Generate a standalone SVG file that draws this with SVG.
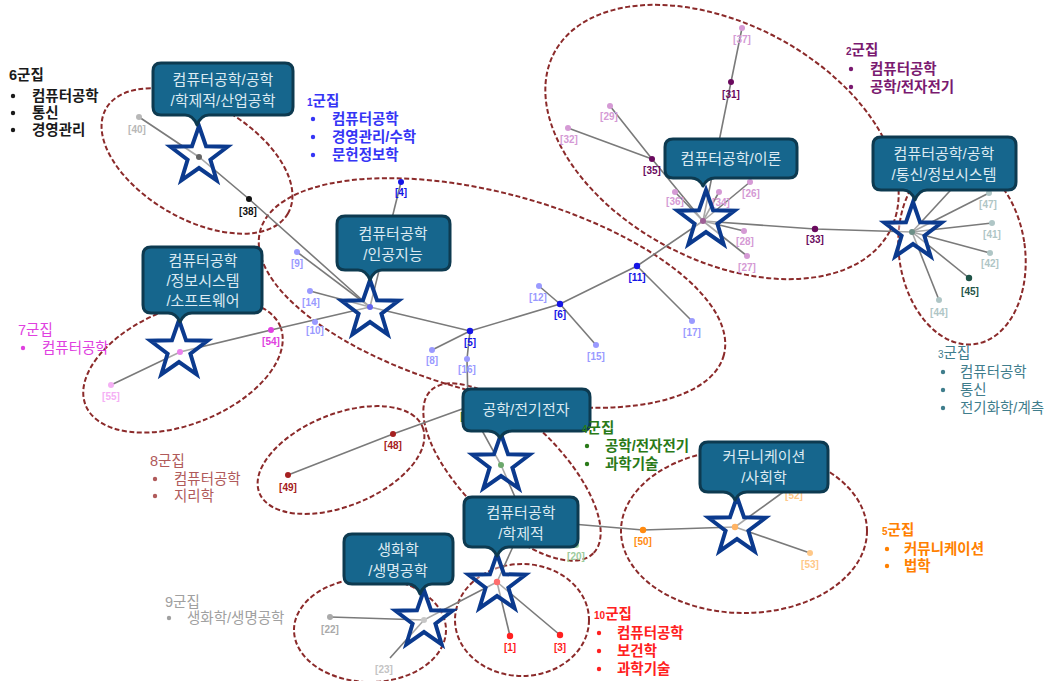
<svg xmlns="http://www.w3.org/2000/svg" xmlns:xlink="http://www.w3.org/1999/xlink" width="1055" height="681" viewBox="0 0 1055 681">
<defs>
<style>
.bg{fill:#ffffff}
.ell{fill:none;stroke:#8B2A2A;stroke-width:2;stroke-dasharray:5 2.5}
.edge{stroke:#7a7a7a;stroke-width:1.6;fill:none}
.star{fill:#ffffff;fill-opacity:0.35;stroke:#0B3A8E;stroke-width:4;stroke-linejoin:miter}
.call{fill:#16668D;stroke:#0D3A50;stroke-width:3;stroke-linejoin:round}
.ct{font-family:"Liberation Sans","Noto Sans CJK KR",sans-serif;font-size:15px;fill:#DCEAF2;text-anchor:middle}
.nl{font-family:"Liberation Sans",Arial,sans-serif;font-size:10px;font-weight:bold;text-anchor:middle}
.gl{font-family:"Liberation Sans","Noto Sans CJK KR",sans-serif;font-size:14.5px;font-weight:bold}
.gr{font-family:"Liberation Sans","Noto Sans CJK KR",sans-serif;font-size:14.5px}
.sm{font-size:10px}
</style>
<path id="starshape" d="M0,-30 L7.05,-9.71 L28.53,-9.27 L11.41,3.71 L17.63,24.27 L0,12 L-17.63,24.27 L-11.41,3.71 L-28.53,-9.27 L-7.05,-9.71 Z"/>
</defs>
<rect class="bg" x="0" y="0" width="1055" height="681"/>

<g id="ellipses">
<ellipse class="ell" cx="197" cy="161" rx="105" ry="58" transform="rotate(30 197 161)"/>
<ellipse class="ell" cx="492" cy="293" rx="240" ry="100" transform="rotate(15 492 293)"/>
<ellipse class="ell" cx="722" cy="142" rx="190" ry="118" transform="rotate(28 722 142)"/>
<ellipse class="ell" cx="962" cy="252" rx="63" ry="93" transform="rotate(-8 962 252)"/>
<ellipse class="ell" cx="183" cy="366" rx="105" ry="58" transform="rotate(-22 183 366)"/>
<ellipse class="ell" cx="341" cy="460" rx="88" ry="46" transform="rotate(-22 341 460)"/>
<ellipse class="ell" cx="512" cy="472" rx="115" ry="50" transform="rotate(45 512 472)"/>
<ellipse class="ell" cx="744" cy="531" rx="123" ry="82"/>
<ellipse class="ell" cx="370" cy="630" rx="76" ry="52"/>
<ellipse class="ell" cx="522" cy="620" rx="67" ry="56"/>
</g>

<g id="connectors">
<polyline class="edge" points="139,117 199,157 249,199 370,307"/>
<line class="edge" x1="297" y1="252" x2="370" y2="307"/>
<line class="edge" x1="310" y1="291" x2="370" y2="307"/>
<line class="edge" x1="401" y1="182" x2="370" y2="307"/>
<polyline class="edge" points="111,385 180,352 271,330 370,307"/>
<polyline class="edge" points="370,307 470,331 560,304 637,266 703,221"/>
<line class="edge" x1="470" y1="331" x2="432" y2="350"/>
<polyline class="edge" points="470,331 467,359 468,405 501,465 525,520 497,582"/>
<polyline class="edge" points="525,520 643,530 735,527"/>
<line class="edge" x1="560" y1="304" x2="539" y2="286"/>
<line class="edge" x1="560" y1="304" x2="596" y2="345"/>
<line class="edge" x1="637" y1="266" x2="692" y2="321"/>
<polyline class="edge" points="288,475 393,434 465,408"/>
<line class="edge" x1="735" y1="527" x2="786" y2="490"/>
<line class="edge" x1="735" y1="527" x2="810" y2="553"/>
<line class="edge" x1="497" y1="582" x2="510" y2="636"/>
<line class="edge" x1="497" y1="582" x2="560" y2="635"/>
<polyline class="edge" points="497,582 424,620 330,617"/>
<line class="edge" x1="424" y1="620" x2="390" y2="658"/>
<polyline class="edge" points="742,28 731,82 703,221"/>
<polyline class="edge" points="610,106 652,159 703,221"/>
<line class="edge" x1="568" y1="128" x2="652" y2="159"/>
<line class="edge" x1="675" y1="192" x2="703" y2="221"/>
<line class="edge" x1="719" y1="192" x2="703" y2="221"/>
<line class="edge" x1="750" y1="182" x2="703" y2="221"/>
<line class="edge" x1="744" y1="231" x2="703" y2="221"/>
<line class="edge" x1="747" y1="256" x2="703" y2="221"/>
<polyline class="edge" points="703,221 815,229 912,232"/>
<line class="edge" x1="912" y1="232" x2="989" y2="193"/>
<line class="edge" x1="912" y1="232" x2="992" y2="223"/>
<line class="edge" x1="912" y1="232" x2="990" y2="253"/>
<line class="edge" x1="912" y1="232" x2="969" y2="278"/>
<line class="edge" x1="912" y1="232" x2="939" y2="300"/>
<line class="edge" x1="912" y1="232" x2="960" y2="180"/>
</g>

<g id="nodes">
<circle cx="139" cy="117" r="3" fill="#B8B8B8"/>
<text class="nl" x="137" y="133" fill="#B8B8B8">[40]</text>
<circle cx="249" cy="199" r="3" fill="#111"/>
<text class="nl" x="248" y="215" fill="#111">[38]</text>
<circle cx="199" cy="157" r="3" fill="#111"/>

<circle cx="370" cy="307" r="3" fill="#1515E6"/>
<circle cx="401" cy="182" r="3" fill="#1515E6"/>
<text class="nl" x="401" y="196" fill="#1515E6">[4]</text>
<circle cx="297" cy="252" r="3" fill="#9A9AFF"/>
<text class="nl" x="297" y="267" fill="#9A9AFF">[9]</text>
<circle cx="310" cy="291" r="3" fill="#9A9AFF"/>
<text class="nl" x="311" y="306" fill="#9A9AFF">[14]</text>
<circle cx="315" cy="322" r="3" fill="#9A9AFF"/>
<text class="nl" x="315" y="334" fill="#9A9AFF">[10]</text>
<circle cx="470" cy="331" r="3.2" fill="#1515E6"/>
<text class="nl" x="470" y="346" fill="#1515E6">[5]</text>
<circle cx="432" cy="350" r="3" fill="#9A9AFF"/>
<text class="nl" x="432" y="364" fill="#9A9AFF">[8]</text>
<circle cx="467" cy="359" r="3" fill="#9A9AFF"/>
<text class="nl" x="467" y="373" fill="#9A9AFF">[16]</text>
<circle cx="560" cy="304" r="3.2" fill="#1515E6"/>
<text class="nl" x="560" y="318" fill="#1515E6">[6]</text>
<circle cx="539" cy="286" r="3" fill="#9A9AFF"/>
<text class="nl" x="538" y="301" fill="#9A9AFF">[12]</text>
<circle cx="596" cy="345" r="3" fill="#9A9AFF"/>
<text class="nl" x="596" y="360" fill="#9A9AFF">[15]</text>
<circle cx="637" cy="266" r="3.2" fill="#1515E6"/>
<text class="nl" x="637" y="281" fill="#1515E6">[11]</text>
<circle cx="692" cy="321" r="3" fill="#9A9AFF"/>
<text class="nl" x="692" y="336" fill="#9A9AFF">[17]</text>

<circle cx="703" cy="221" r="3" fill="#6A0A5E"/>
<circle cx="742" cy="28" r="3" fill="#D59AD5"/>
<text class="nl" x="742" y="43" fill="#D59AD5">[37]</text>
<circle cx="731" cy="82" r="3" fill="#6A0A5E"/>
<text class="nl" x="731" y="98" fill="#6A0A5E">[31]</text>
<circle cx="610" cy="106" r="3" fill="#D59AD5"/>
<text class="nl" x="609" y="120" fill="#D59AD5">[29]</text>
<circle cx="568" cy="128" r="3" fill="#D59AD5"/>
<text class="nl" x="569" y="143" fill="#D59AD5">[32]</text>
<circle cx="652" cy="159" r="3" fill="#6A0A5E"/>
<text class="nl" x="652" y="174" fill="#6A0A5E">[35]</text>
<circle cx="675" cy="192" r="3" fill="#D59AD5"/>
<text class="nl" x="675" y="205" fill="#D59AD5">[36]</text>
<circle cx="719" cy="192" r="3" fill="#D59AD5"/>
<text class="nl" x="721" y="206" fill="#D59AD5">[34]</text>
<circle cx="750" cy="182" r="3" fill="#D59AD5"/>
<text class="nl" x="751" y="197" fill="#D59AD5">[26]</text>
<circle cx="744" cy="231" r="3" fill="#D59AD5"/>
<text class="nl" x="745" y="245" fill="#D59AD5">[28]</text>
<circle cx="747" cy="256" r="3" fill="#D59AD5"/>
<text class="nl" x="747" y="271" fill="#D59AD5">[27]</text>
<circle cx="815" cy="229" r="3.2" fill="#6A0A5E"/>
<text class="nl" x="815" y="243" fill="#6A0A5E">[33]</text>

<circle cx="912" cy="232" r="3" fill="#1F5448"/>
<circle cx="989" cy="193" r="3" fill="#AFC6C6"/>
<text class="nl" x="988" y="208" fill="#AFC6C6">[47]</text>
<circle cx="992" cy="223" r="3" fill="#AFC6C6"/>
<text class="nl" x="992" y="238" fill="#AFC6C6">[41]</text>
<circle cx="990" cy="253" r="3" fill="#AFC6C6"/>
<text class="nl" x="990" y="267" fill="#AFC6C6">[42]</text>
<circle cx="969" cy="278" r="3.2" fill="#1F5448"/>
<text class="nl" x="970" y="295" fill="#1F5448">[45]</text>
<circle cx="939" cy="300" r="3" fill="#AFC6C6"/>
<text class="nl" x="939" y="316" fill="#AFC6C6">[44]</text>

<circle cx="271" cy="330" r="3" fill="#E040E0"/>
<text class="nl" x="271" y="345" fill="#E040E0">[54]</text>
<circle cx="180" cy="352" r="3" fill="#E040E0"/>
<circle cx="111" cy="385" r="3" fill="#F5B0F5"/>
<text class="nl" x="111" y="400" fill="#F5B0F5">[55]</text>

<circle cx="393" cy="434" r="3" fill="#A52020"/>
<text class="nl" x="393" y="449" fill="#A52020">[48]</text>
<circle cx="288" cy="475" r="3" fill="#A52020"/>
<text class="nl" x="288" y="491" fill="#A52020">[49]</text>

<circle cx="501" cy="465" r="3" fill="#1E7A1E"/>
<text class="nl" x="462" y="420" fill="#1E7A1E">[</text>
<circle cx="576" cy="545" r="3" fill="#9CCB9C"/>
<text class="nl" x="576" y="560" fill="#9CCB9C">[20]</text>

<circle cx="643" cy="530" r="3.2" fill="#FF8A10"/>
<text class="nl" x="643" y="545" fill="#FF8A10">[50]</text>
<circle cx="735" cy="527" r="3.2" fill="#FF8A10"/>
<circle cx="786" cy="490" r="3" fill="#FFC888"/>
<text class="nl" x="794" y="499" fill="#FFC888">[52]</text>
<circle cx="810" cy="553" r="3" fill="#FFC888"/>
<text class="nl" x="810" y="568" fill="#FFC888">[53]</text>

<circle cx="497" cy="582" r="3.2" fill="#FF2020"/>
<circle cx="510" cy="636" r="3.2" fill="#FF2020"/>
<text class="nl" x="510" y="651" fill="#FF2020">[1]</text>
<circle cx="560" cy="635" r="3.2" fill="#FF2020"/>
<text class="nl" x="560" y="651" fill="#FF2020">[3]</text>

<circle cx="424" cy="620" r="3" fill="#AAAAAA"/>
<circle cx="330" cy="617" r="3" fill="#AAAAAA"/>
<text class="nl" x="330" y="633" fill="#AAAAAA">[22]</text>
<text class="nl" x="384" y="673" fill="#C4C4C4">[23]</text>
</g>

<g id="stars">
<use xlink:href="#starshape" class="star" x="199" y="156"/>
<use xlink:href="#starshape" class="star" x="370" y="310"/>
<use xlink:href="#starshape" class="star" x="706" y="220"/>
<use xlink:href="#starshape" class="star" x="913" y="232"/>
<use xlink:href="#starshape" class="star" x="179" y="350"/>
<use xlink:href="#starshape" class="star" x="501" y="464"/>
<use xlink:href="#starshape" class="star" x="497" y="584"/>
<use xlink:href="#starshape" class="star" x="424" y="620"/>
<use xlink:href="#starshape" class="star" x="737" y="527"/>
</g>

<g id="callout-6">
<path class="call" d="M161,63 H285 Q293,63 293,71 V107 Q293,115 285,115 H209 Q201,115 197,125 Q193,115 185,115 H161 Q153,115 153,107 V71 Q153,63 161,63 Z"/>
<text class="ct" x="223" y="85">컴퓨터공학/공학</text>
<text class="ct" x="223" y="106">/학제적/산업공학</text>
</g>
<g id="callout-1">
<path class="call" d="M345,216 H442 Q450,216 450,224 V262 Q450,270 442,270 H382 Q374,270 370,280 Q366,270 358,270 H345 Q337,270 337,262 V224 Q337,216 345,216 Z"/>
<text class="ct" x="393" y="239">컴퓨터공학</text>
<text class="ct" x="393" y="260">/인공지능</text>
</g>
<g id="callout-2">
<path class="call" d="M673,139 H789 Q797,139 797,147 V170 Q797,178 789,178 H715 Q707,178 703,186 Q699,178 691,178 H673 Q665,178 665,170 V147 Q665,139 673,139 Z"/>
<text class="ct" x="731" y="164">컴퓨터공학/이론</text>
</g>
<g id="callout-3">
<path class="call" d="M881,137 H1008 Q1016,137 1016,145 V182 Q1016,190 1008,190 H927 Q919,190 915,200 Q911,190 903,190 H881 Q873,190 873,182 V145 Q873,137 881,137 Z"/>
<text class="ct" x="944" y="159">컴퓨터공학/공학</text>
<text class="ct" x="944" y="180">/통신/정보시스템</text>
</g>
<g id="callout-7">
<path class="call" d="M151,247 H254 Q262,247 262,255 V305 Q262,313 254,313 H192 Q184,313 180,322 Q176,313 168,313 H151 Q143,313 143,305 V255 Q143,247 151,247 Z"/>
<text class="ct" x="203" y="266">컴퓨터공학</text>
<text class="ct" x="203" y="286">/정보시스템</text>
<text class="ct" x="203" y="306">/소프트웨어</text>
</g>
<g id="callout-4">
<path class="call" d="M471,389 H582 Q590,389 590,397 V423 Q590,431 582,431 H512 Q504,431 500,438 Q496,431 488,431 H471 Q463,431 463,423 V397 Q463,389 471,389 Z"/>
<text class="ct" x="526" y="415">공학/전기전자</text>
</g>
<g id="callout-10">
<path class="call" d="M472,497 H570 Q578,497 578,505 V539 Q578,547 570,547 H509 Q501,547 497,556 Q493,547 485,547 H472 Q464,547 464,539 V505 Q464,497 472,497 Z"/>
<text class="ct" x="521" y="518">컴퓨터공학</text>
<text class="ct" x="521" y="539">/학제적</text>
</g>
<g id="callout-9">
<path class="call" d="M352,534 H445 Q453,534 453,542 V576 Q453,584 445,584 H432 Q424,584 420,594 Q416,584 408,584 H352 Q344,584 344,576 V542 Q344,534 352,534 Z"/>
<text class="ct" x="398" y="555">생화학</text>
<text class="ct" x="398" y="576">/생명공학</text>
</g>
<g id="callout-5">
<path class="call" d="M708,442 H820 Q828,442 828,450 V484 Q828,492 820,492 H747 Q739,492 735,500 Q731,492 723,492 H708 Q700,492 700,484 V450 Q700,442 708,442 Z"/>
<text class="ct" x="764" y="462">커뮤니케이션</text>
<text class="ct" x="764" y="483">/사회학</text>
</g>

<g id="legend-6" class="gl" fill="#1a1a1a">
<text x="9" y="80">6군집</text>
<circle cx="13" cy="96" r="2.2"/><text x="32" y="101">컴퓨터공학</text>
<circle cx="13" cy="113" r="2.2"/><text x="32" y="118">통신</text>
<circle cx="13" cy="130" r="2.2"/><text x="32" y="135">경영관리</text>
</g>
<g id="legend-1" class="gl" fill="#3535F5">
<text x="307" y="106"><tspan class="sm">1</tspan>군집</text>
<circle cx="313" cy="119" r="2.2"/><text x="332" y="124">컴퓨터공학</text>
<circle cx="313" cy="137" r="2.2"/><text x="332" y="142">경영관리/수학</text>
<circle cx="313" cy="155" r="2.2"/><text x="332" y="160">문헌정보학</text>
</g>
<g id="legend-2" class="gl" fill="#7A1A70">
<text x="846" y="55"><tspan class="sm">2</tspan>군집</text>
<circle cx="851" cy="69" r="2.2"/><text x="870" y="74">컴퓨터공학</text>
<circle cx="851" cy="87" r="2.2"/><text x="870" y="92">공학/전자전기</text>
</g>
<g id="legend-3" class="gr" fill="#3F7D8C">
<text x="938" y="358"><tspan class="sm">3</tspan>군집</text>
<circle cx="943" cy="372" r="2.2"/><text x="960" y="377">컴퓨터공학</text>
<circle cx="943" cy="390" r="2.2"/><text x="960" y="395">통신</text>
<circle cx="943" cy="408" r="2.2"/><text x="960" y="413">전기화학/계측</text>
</g>
<g id="legend-7" class="gr" fill="#E040E0">
<text x="18" y="335">7군집</text>
<circle cx="23" cy="348" r="2.2"/><text x="42" y="353">컴퓨터공학</text>
</g>
<g id="legend-8" class="gr" fill="#B05A5A">
<text x="150" y="466">8군집</text>
<circle cx="155" cy="479" r="2.2"/><text x="174" y="484">컴퓨터공학</text>
<circle cx="155" cy="496" r="2.2"/><text x="174" y="501">지리학</text>
</g>
<g id="legend-4" class="gl" fill="#2A7A18">
<text x="582" y="433"><tspan class="sm">4</tspan>군집</text>
<circle cx="587" cy="446" r="2.2"/><text x="605" y="451">공학/전자전기</text>
<circle cx="587" cy="464" r="2.2"/><text x="605" y="469">과학기술</text>
</g>
<g id="legend-5" class="gl" fill="#FF8000">
<text x="882" y="535"><tspan class="sm">5</tspan>군집</text>
<circle cx="887" cy="549" r="2.2"/><text x="904" y="554">커뮤니케이션</text>
<circle cx="887" cy="566" r="2.2"/><text x="904" y="571">법학</text>
</g>
<g id="legend-9" class="gr" fill="#A0A0A0">
<text x="165" y="607">9군집</text>
<circle cx="169" cy="618" r="2.2"/><text x="187" y="623">생화학/생명공학</text>
</g>
<g id="legend-10" class="gl" fill="#FF2020">
<text x="594" y="619"><tspan class="sm">10</tspan>군집</text>
<circle cx="599" cy="633" r="2.2"/><text x="617" y="638">컴퓨터공학</text>
<circle cx="599" cy="651" r="2.2"/><text x="617" y="656">보건학</text>
<circle cx="599" cy="669" r="2.2"/><text x="617" y="674">과학기술</text>
</g>
</svg>
